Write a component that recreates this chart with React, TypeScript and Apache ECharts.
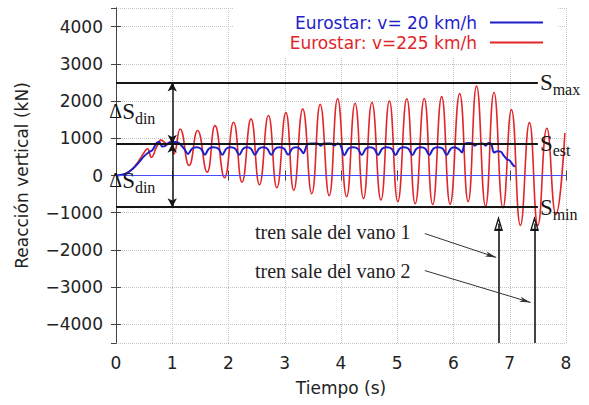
import React, { useEffect, useRef } from "react";
import * as echarts from "echarts";

// ---------- data ----------
const seriesNames = ["Eurostar: v= 20 km/h", "Eurostar: v=225 km/h"];
const xRange = [0, 8];
const yRange = [-4500, 4500];

// v = 225 km/h (peaks / troughs)
const redData: [number, number][] = [
  [0, 0], [0.08, 10], [0.17, 50], [0.27, 150], [0.36, 300], [0.44, 480], [0.5, 620],
  [0.56, 720], [0.63, 490], [0.72, 760], [0.8, 950], [0.87, 880], [0.91, 830], [0.97, 920],
  [1.03, 580], [1.14, 1250], [1.30, 270], [1.45, 1210], [1.62, 90], [1.76, 1340],
  [1.93, -60], [2.09, 1430], [2.24, -180], [2.40, 1520], [2.55, -250], [2.71, 1610],
  [2.86, -330], [3.02, 1690], [3.16, -400], [3.32, 1790], [3.48, -490], [3.63, 1910],
  [3.79, -540], [3.94, 2060], [4.10, -570], [4.25, 1940], [4.40, -620], [4.55, 1960],
  [4.71, -660], [4.86, 2000], [5.01, -700], [5.17, 2060], [5.32, -760], [5.48, 2070],
  [5.63, -780], [5.79, 2120], [5.94, -770], [6.11, 2200], [6.26, -700], [6.41, 2400],
  [6.57, -830], [6.72, 2230], [6.88, -870], [7.03, 1770], [7.19, -1340], [7.35, 1420],
  [7.50, -1340], [7.66, 1270], [7.82, -1050], [7.98, 1140],
];

// v = 20 km/h
const blueData: [number, number][] = [
  [0, 0], [0.1, 20], [0.2, 70], [0.3, 180], [0.4, 340], [0.5, 520], [0.58, 620], [0.65, 690],
  [0.72, 870], [0.77, 900], [0.82, 780], [0.87, 790], [0.94, 880], [1.04, 900], [1.12, 870],
  [1.21, 720], [1.28, 580], [1.35, 720], [1.43, 760], [1.51, 720], [1.58, 560], [1.65, 720],
  [1.73, 760], [1.82, 720], [1.89, 555], [1.96, 720], [2.04, 760], [2.12, 720], [2.19, 555],
  [2.26, 720], [2.33, 760], [2.40, 720], [2.47, 555], [2.54, 720], [2.62, 760], [2.69, 720],
  [2.76, 555], [2.83, 720], [2.91, 760], [2.99, 720], [3.06, 555], [3.13, 720], [3.20, 760],
  [3.27, 720], [3.33, 600], [3.40, 830], [3.48, 860], [3.58, 860], [3.64, 800], [3.70, 860],
  [3.82, 860], [3.88, 810], [3.94, 860], [3.99, 820], [4.06, 545], [4.13, 720], [4.21, 760],
  [4.30, 720], [4.37, 550], [4.44, 720], [4.51, 760], [4.59, 720], [4.66, 550], [4.73, 720],
  [4.81, 760], [4.90, 720], [4.97, 550], [5.04, 720], [5.12, 760], [5.20, 720], [5.27, 550],
  [5.34, 720], [5.42, 760], [5.50, 720], [5.57, 550], [5.64, 720], [5.72, 760], [5.81, 720],
  [5.88, 550], [5.95, 720], [6.02, 760], [6.10, 700], [6.15, 620], [6.20, 850], [6.28, 870],
  [6.34, 860], [6.38, 800], [6.43, 850], [6.52, 860], [6.57, 800], [6.62, 870], [6.67, 850],
  [6.72, 620], [6.78, 650], [6.84, 640], [6.90, 520], [6.95, 440], [7.00, 400], [7.05, 300],
  [7.09, 230],
];

// reference levels
const levelSubs = ["max", "est", "min"];
const levelValues = [2500, 850, -850];
const levelEndX = 7.5;

// dynamic increment arrows
const dinArrowX = 1.0;
const dinLabelPos: [number, number][] = [[0.7, 1720], [0.7, -130]];

// train exit arrows
const exitTimes = [6.8, 7.44];
const exitArrowTop = -1290;

// notes
const noteTexts = ["tren sale del vano 1", "tren sale del vano 2"];
const notePos: [number, number][] = [[2.47, -1530], [2.47, -2554]];
const pointerFrom: [number, number][] = [[5.49, -1560], [5.49, -2554]];
const pointerTo: [number, number][] = [[6.76, -2200], [7.37, -3410]];

// ---------- styles ----------
const BLUE = "#1f1fc8";
const RED = "#e1262b";
const INK = "#151515";
const SANS = "DejaVu Sans";
const SERIF = "Liberation Serif";
const OPEN_ARROW = "path://M0,0 L-4,14 L4,14 Z M0,4.5 L2.2,12 L-2.2,12 Z";

const fmtNum = (v: number) => (v < 0 ? "\u2212" + Math.abs(v) : String(v));

export default function App() {
  const ref = useRef<HTMLDivElement>(null);

  useEffect(() => {
    if (!ref.current) return;
    const chart = echarts.init(ref.current, undefined, { renderer: "svg" });

    const subRich = {
      s: { fontFamily: SERIF, fontSize: 23, color: INK, lineHeight: 24 },
      b: { fontFamily: SERIF, fontSize: 16, color: INK, lineHeight: 16, padding: [14, 0, 0, 0] },
      d: { fontFamily: SERIF, fontSize: 20, color: INK, lineHeight: 24 },
    };

    const levelLines = levelValues.map((v, i) => [
      {
        coord: [xRange[0], v],
        symbol: "none",
        lineStyle: { color: INK, width: 2, type: "solid" },
        label: {
          show: true,
          position: "end",
          distance: 2,
          formatter: `{s|S}{b|${levelSubs[i]}}`,
          rich: subRich,
        },
      },
      { coord: [levelEndX, v], symbol: "none" },
    ]);

    const dinArrows = [
      [levelValues[0], levelValues[1]],
      [levelValues[1], levelValues[2]],
    ].map(([a, b]) => [
      { coord: [dinArrowX, a], symbol: "arrow", symbolSize: [7, 9], lineStyle: { color: INK, width: 1.5, type: "solid" }, label: { show: false } },
      { coord: [dinArrowX, b], symbol: "arrow", symbolSize: [7, 9] },
    ]);

    const exitArrows = exitTimes.map((t) => [
      { coord: [t, yRange[0]], symbol: "none", lineStyle: { color: INK, width: 1.6, type: "solid" }, label: { show: false } },
      { coord: [t, exitArrowTop], symbol: OPEN_ARROW, symbolSize: [9, 15] },
    ]);

    const pointers = pointerFrom.map((p, i) => [
      { coord: p, symbol: "none", lineStyle: { color: "#333", width: 1, type: "solid" }, label: { show: false } },
      { coord: pointerTo[i], symbol: "arrow", symbolSize: [4, 11] },
    ]);

    const zeroLine = [
      { coord: [xRange[0], 0], symbol: "none", lineStyle: { color: "#4a4aff", width: 1, type: "solid" }, label: { show: false } },
      { coord: [xRange[1], 0], symbol: "none" },
    ];

    const noteMarks = noteTexts.map((txt, i) => ({
      coord: notePos[i],
      symbol: "circle",
      symbolSize: 0,
      itemStyle: { color: "rgba(0,0,0,0)" },
      label: {
        show: true,
        position: "right",
        distance: 0,
        formatter: txt,
        fontFamily: SERIF,
        fontSize: 20,
        color: "#222",
      },
    }));

    const dinMarks = dinLabelPos.map((p) => ({
      coord: p,
      symbol: "circle",
      symbolSize: 0,
      itemStyle: { color: "rgba(0,0,0,0)" },
      label: {
        show: true,
        position: "left",
        distance: 0,
        formatter: "{d|Δ}{s|S}{b|din}",
        rich: subRich,
      },
    }));

    const axisLine = { show: true, lineStyle: { color: "#444", width: 1 } };
    const tick = { show: true, inside: true, length: 5, lineStyle: { color: "#444" } };
    const grid = { show: true, lineStyle: { color: "#c4c4c4", type: "dotted", width: 1 } };
    const tickLabel = { fontFamily: SANS, fontSize: 17, color: "#222", formatter: fmtNum };

    chart.setOption({
      animation: false,
      backgroundColor: "#fff",
      grid: { left: 116, right: 23, top: 8, bottom: 62 },
      legend: {
        data: [
          { name: seriesNames[0], textStyle: { color: BLUE } },
          { name: seriesNames[1], textStyle: { color: RED } },
        ],
        orient: "vertical",
        right: 32,
        top: 8,
        align: "right",
        icon: "rect",
        itemWidth: 53,
        itemHeight: 2,
        itemGap: 3,
        backgroundColor: "#fff",
        padding: [6, 14, 6, 56],
        textStyle: { fontFamily: SANS, fontSize: 17, padding: [0, 8, 0, 0] },
        selectedMode: false,
      },
      xAxis: [
        {
          type: "value",
          min: xRange[0],
          max: xRange[1],
          interval: 1,
          position: "bottom",
          name: "Tiempo (s)",
          nameLocation: "middle",
          nameGap: 36,
          nameTextStyle: { fontFamily: SANS, fontSize: 17, color: "#222" },
          axisLine,
          axisTick: tick,
          axisLabel: { ...tickLabel, margin: 11 },
          splitLine: grid,
        },
        {
          type: "value",
          min: xRange[0],
          max: xRange[1],
          interval: 1,
          position: "top",
          axisLine,
          axisTick: tick,
          axisLabel: { show: false },
          splitLine: { show: false },
        },
      ],
      yAxis: [
        {
          type: "value",
          min: yRange[0],
          max: yRange[1],
          splitNumber: 9,
          position: "left",
          name: "Reacción vertical (kN)",
          nameLocation: "middle",
          nameGap: 86,
          nameTextStyle: { fontFamily: SANS, fontSize: 17, color: "#222" },
          axisLine,
          axisTick: tick,
          axisLabel: { ...tickLabel, margin: 13, showMinLabel: false, showMaxLabel: false },
          splitLine: grid,
        },
        {
          type: "value",
          min: yRange[0],
          max: yRange[1],
          splitNumber: 9,
          position: "right",
          axisLine,
          axisTick: tick,
          axisLabel: { show: false },
          splitLine: { show: false },
        },
      ],
      series: [
        {
          name: "annotations",
          type: "line",
          data: [],
          silent: true,
          z: 1,
          markLine: {
            silent: true,
            animation: false,
            symbol: "none",
            label: { show: false },
            data: [zeroLine, ...levelLines],
          },
        },
        {
          name: seriesNames[1],
          type: "line",
          data: redData,
          showSymbol: false,
          smooth: 0.5,
          lineStyle: { color: RED, width: 1.6 },
          itemStyle: { color: RED },
          z: 3,
        },
        {
          name: seriesNames[0],
          type: "line",
          data: blueData,
          showSymbol: false,
          smooth: 0.35,
          lineStyle: { color: BLUE, width: 2 },
          itemStyle: { color: BLUE },
          z: 4,
        },
        {
          name: "notes",
          type: "line",
          data: [],
          silent: true,
          z: 5,
          markLine: {
            silent: true,
            animation: false,
            symbol: "none",
            label: { show: false },
            data: [...dinArrows, ...exitArrows, ...pointers],
          },
          markPoint: {
            silent: true,
            animation: false,
            data: [...noteMarks, ...dinMarks],
          },
        },
      ],
    });

    return () => chart.dispose();
  }, []);

  return (
    <div
      ref={ref}
      style={{ position: "fixed", left: 0, top: 0, width: 589, height: 405, background: "#fff" }}
    />
  );
}
